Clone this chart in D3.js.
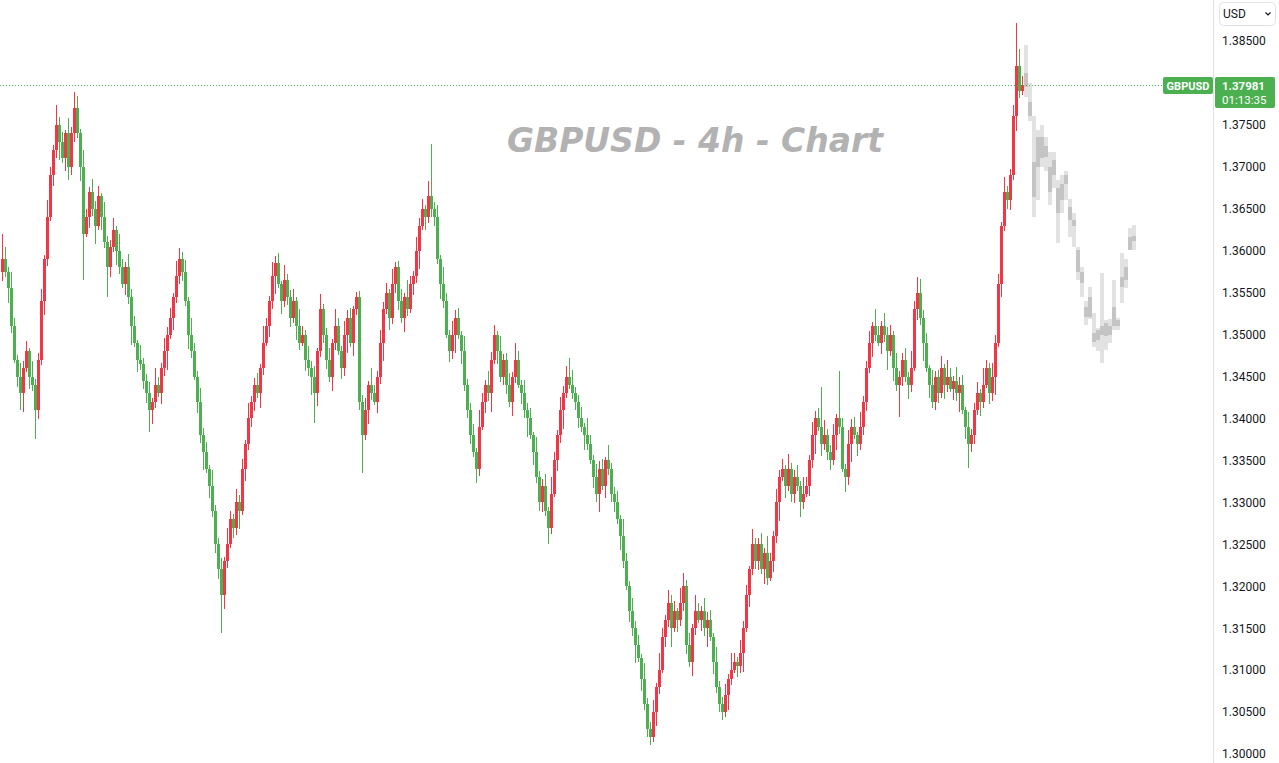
<!DOCTYPE html>
<html><head><meta charset="utf-8">
<script src="https://cdn.jsdelivr.net/npm/d3@7"></script>
<style>html,body{margin:0;padding:0;background:#fff;overflow:hidden}</style>
</head><body>
<svg id="c" width="1279" height="763"></svg>
<script>
const symbol = "GBPUSD";
const title = "GBPUSD - 4h - Chart";
const currency = "USD";
const lastPrice = 1.37981;
const countdown = "01:13:35";
const priceTicks = [1.385,1.38,1.375,1.37,1.365,1.36,1.355,1.35,1.345,1.34,1.335,1.33,1.325,1.32,1.315,1.31,1.305,1.30];

const opens = [1.3575,1.3590,1.3575,1.3555,1.3510,1.3470,1.3450,1.3430,1.3460,1.3480,1.3450,1.3440,1.3410,1.3470,1.3540,1.3590,1.3640,1.3690,1.3720,1.3750,
1.3730,1.3710,1.3740,1.3700,1.3740,1.3770,1.3740,1.3700,1.3620,1.3640,1.3670,1.3650,1.3630,1.3665,1.3640,1.3610,1.3580,1.3605,1.3625,1.3600,
1.3580,1.3560,1.3580,1.3545,1.3510,1.3490,1.3470,1.3465,1.3445,1.3430,1.3410,1.3420,1.3440,1.3430,1.3460,1.3480,1.3500,1.3520,1.3545,1.3570,
1.3590,1.3575,1.3540,1.3500,1.3480,1.3450,1.3420,1.3380,1.3360,1.3340,1.3320,1.3290,1.3250,1.3220,1.3190,1.3230,1.3250,1.3280,1.3270,1.3300,
1.3290,1.3340,1.3370,1.3400,1.3420,1.3440,1.3430,1.3460,1.3490,1.3510,1.3540,1.3570,1.3585,1.3560,1.3540,1.3565,1.3545,1.3520,1.3540,1.3510,
1.3490,1.3500,1.3470,1.3460,1.3450,1.3430,1.3480,1.3530,1.3500,1.3470,1.3450,1.3490,1.3510,1.3480,1.3460,1.3500,1.3520,1.3490,1.3530,1.3545,
1.3420,1.3380,1.3410,1.3440,1.3430,1.3420,1.3450,1.3490,1.3530,1.3550,1.3520,1.3560,1.3580,1.3540,1.3520,1.3545,1.3530,1.3560,1.3570,1.3600,
1.3630,1.3650,1.3640,1.3665,1.3650,1.3640,1.3590,1.3560,1.3540,1.3500,1.3480,1.3500,1.3520,1.3500,1.3480,1.3440,1.3410,1.3380,1.3360,1.3340,
1.3390,1.3420,1.3440,1.3430,1.3470,1.3500,1.3480,1.3450,1.3470,1.3440,1.3420,1.3450,1.3470,1.3440,1.3430,1.3410,1.3400,1.3380,1.3360,1.3330,
1.3300,1.3320,1.3290,1.3270,1.3310,1.3350,1.3380,1.3410,1.3430,1.3450,1.3440,1.3430,1.3420,1.3400,1.3390,1.3380,1.3370,1.3350,1.3330,1.3310,
1.3340,1.3320,1.3350,1.3340,1.3310,1.3300,1.3280,1.3260,1.3230,1.3200,1.3170,1.3150,1.3130,1.3115,1.3090,1.3060,1.3030,1.3020,1.3050,1.3080,
1.3100,1.3140,1.3160,1.3180,1.3150,1.3170,1.3160,1.3180,1.3200,1.3130,1.3110,1.3150,1.3170,1.3160,1.3170,1.3150,1.3160,1.3140,1.3110,1.3080,
1.3060,1.3050,1.3070,1.3090,1.3100,1.3110,1.3105,1.3120,1.3150,1.3190,1.3220,1.3250,1.3230,1.3250,1.3220,1.3240,1.3210,1.3230,1.3260,1.3300,
1.3330,1.3340,1.3320,1.3340,1.3310,1.3330,1.3320,1.3300,1.3310,1.3320,1.3350,1.3380,1.3400,1.3390,1.3370,1.3380,1.3360,1.3350,1.3380,1.3400,
1.3390,1.3340,1.3330,1.3370,1.3390,1.3380,1.3370,1.3390,1.3420,1.3460,1.3490,1.3510,1.3500,1.3490,1.3510,1.3500,1.3480,1.3500,1.3460,1.3440,
1.3450,1.3470,1.3450,1.3440,1.3460,1.3530,1.3550,1.3520,1.3490,1.3460,1.3440,1.3420,1.3450,1.3430,1.3460,1.3440,1.3450,1.3435,1.3445,1.3430,
1.3440,1.3410,1.3390,1.3370,1.3380,1.3410,1.3430,1.3420,1.3440,1.3460,1.3430,1.3450,1.3490,1.3560,1.3630,1.3670,1.3660,1.3690,1.3760,1.3820,
1.3790];

const highs = [1.3620,1.3604,1.3580,1.3575,1.3520,1.3476,1.3466,1.3469,1.3492,1.3484,1.3468,1.3447,1.3478,1.3554,1.3595,1.3660,1.3700,1.3726,1.3774,1.3759,
1.3742,1.3744,1.3758,1.3747,1.3789,1.3784,1.3745,1.3720,1.3650,1.3676,1.3686,1.3659,1.3677,1.3669,1.3658,1.3617,1.3613,1.3639,1.3630,1.3620,
1.3590,1.3586,1.3596,1.3554,1.3522,1.3494,1.3488,1.3472,1.3453,1.3444,1.3425,1.3460,1.3450,1.3466,1.3496,1.3509,1.3532,1.3549,1.3588,1.3603,
1.3598,1.3589,1.3545,1.3520,1.3490,1.3456,1.3436,1.3389,1.3372,1.3344,1.3338,1.3297,1.3258,1.3234,1.3235,1.3270,1.3290,1.3286,1.3316,1.3309,
1.3352,1.3374,1.3418,1.3427,1.3448,1.3454,1.3465,1.3510,1.3520,1.3546,1.3586,1.3594,1.3597,1.3564,1.3583,1.3572,1.3553,1.3554,1.3545,1.3530,
1.3510,1.3506,1.3486,1.3469,1.3462,1.3484,1.3548,1.3537,1.3508,1.3484,1.3495,1.3530,1.3520,1.3486,1.3516,1.3529,1.3532,1.3534,1.3551,1.3552,
1.3428,1.3424,1.3445,1.3460,1.3440,1.3456,1.3506,1.3539,1.3562,1.3554,1.3578,1.3587,1.3588,1.3554,1.3550,1.3565,1.3570,1.3576,1.3616,1.3639,
1.3662,1.3654,1.3683,1.3727,1.3658,1.3654,1.3595,1.3580,1.3550,1.3506,1.3516,1.3529,1.3532,1.3504,1.3498,1.3447,1.3418,1.3394,1.3365,1.3410,
1.3430,1.3446,1.3456,1.3479,1.3512,1.3504,1.3498,1.3477,1.3478,1.3454,1.3455,1.3490,1.3480,1.3446,1.3446,1.3419,1.3412,1.3384,1.3378,1.3337,
1.3328,1.3334,1.3295,1.3330,1.3360,1.3386,1.3426,1.3439,1.3462,1.3472,1.3458,1.3437,1.3428,1.3414,1.3395,1.3400,1.3380,1.3356,1.3346,1.3349,
1.3352,1.3354,1.3368,1.3347,1.3318,1.3314,1.3285,1.3280,1.3240,1.3206,1.3186,1.3159,1.3142,1.3119,1.3108,1.3067,1.3038,1.3064,1.3085,1.3120,
1.3150,1.3166,1.3196,1.3189,1.3182,1.3174,1.3198,1.3216,1.3208,1.3144,1.3155,1.3190,1.3180,1.3176,1.3186,1.3169,1.3172,1.3144,1.3128,1.3087,
1.3068,1.3084,1.3095,1.3120,1.3120,1.3116,1.3136,1.3159,1.3202,1.3224,1.3268,1.3257,1.3258,1.3264,1.3245,1.3260,1.3240,1.3266,1.3316,1.3339,
1.3352,1.3344,1.3358,1.3347,1.3338,1.3344,1.3325,1.3330,1.3330,1.3356,1.3396,1.3409,1.3412,1.3438,1.3398,1.3387,1.3368,1.3394,1.3405,1.3456,
1.3400,1.3346,1.3386,1.3399,1.3402,1.3384,1.3408,1.3427,1.3468,1.3504,1.3515,1.3530,1.3510,1.3516,1.3526,1.3509,1.3512,1.3504,1.3478,1.3457,
1.3478,1.3484,1.3455,1.3480,1.3540,1.3569,1.3566,1.3529,1.3502,1.3464,1.3458,1.3457,1.3458,1.3474,1.3465,1.3470,1.3460,1.3451,1.3461,1.3449,
1.3452,1.3414,1.3408,1.3387,1.3418,1.3444,1.3435,1.3460,1.3470,1.3466,1.3466,1.3499,1.3572,1.3634,1.3688,1.3677,1.3698,1.3774,1.3871,1.3840,
1.3808];

const lows = [1.3564,1.3569,1.3538,1.3502,1.3466,1.3437,1.3410,1.3408,1.3455,1.3435,1.3433,1.3375,1.3399,1.3464,1.3523,1.3582,1.3636,1.3677,1.3711,1.3708,
1.3705,1.3695,1.3684,1.3690,1.3729,1.3734,1.3683,1.3565,1.3616,1.3627,1.3641,1.3608,1.3625,1.3625,1.3603,1.3545,1.3569,1.3599,1.3583,1.3572,
1.3556,1.3547,1.3536,1.3488,1.3485,1.3455,1.3458,1.3435,1.3419,1.3384,1.3393,1.3412,1.3426,1.3417,1.3451,1.3458,1.3495,1.3505,1.3538,1.3560,
1.3564,1.3534,1.3483,1.3472,1.3446,1.3407,1.3371,1.3338,1.3335,1.3305,1.3283,1.3240,1.3209,1.3144,1.3173,1.3222,1.3246,1.3257,1.3261,1.3268,
1.3285,1.3325,1.3363,1.3390,1.3409,1.3424,1.3413,1.3452,1.3486,1.3497,1.3531,1.3548,1.3555,1.3525,1.3533,1.3535,1.3509,1.3514,1.3493,1.3482,
1.3486,1.3457,1.3451,1.3428,1.3395,1.3415,1.3473,1.3490,1.3459,1.3444,1.3433,1.3482,1.3476,1.3447,1.3451,1.3478,1.3485,1.3475,1.3523,1.3410,
1.3335,1.3374,1.3393,1.3422,1.3416,1.3407,1.3441,1.3468,1.3525,1.3505,1.3513,1.3550,1.3529,1.3514,1.3503,1.3522,1.3526,1.3547,1.3561,1.3578,
1.3625,1.3625,1.3633,1.3640,1.3629,1.3584,1.3543,1.3532,1.3496,1.3467,1.3471,1.3478,1.3495,1.3465,1.3433,1.3400,1.3369,1.3354,1.3323,1.3332,
1.3386,1.3407,1.3421,1.3408,1.3465,1.3465,1.3443,1.3440,1.3429,1.3414,1.3403,1.3442,1.3436,1.3417,1.3401,1.3378,1.3375,1.3345,1.3323,1.3290,
1.3289,1.3284,1.3250,1.3262,1.3306,1.3337,1.3371,1.3388,1.3425,1.3435,1.3423,1.3410,1.3389,1.3384,1.3363,1.3362,1.3346,1.3317,1.3301,1.3288,
1.3315,1.3305,1.3333,1.3300,1.3289,1.3274,1.3243,1.3222,1.3196,1.3157,1.3141,1.3108,1.3110,1.3075,1.3053,1.3020,1.3011,1.3014,1.3033,1.3072,
1.3096,1.3127,1.3151,1.3128,1.3145,1.3145,1.3153,1.3170,1.3119,1.3104,1.3093,1.3142,1.3156,1.3147,1.3141,1.3128,1.3135,1.3095,1.3073,1.3050,
1.3041,1.3044,1.3053,1.3082,1.3096,1.3092,1.3096,1.3098,1.3145,1.3175,1.3213,1.3220,1.3219,1.3214,1.3203,1.3202,1.3206,1.3217,1.3251,1.3278,
1.3325,1.3305,1.3313,1.3300,1.3299,1.3314,1.3283,1.3292,1.3306,1.3307,1.3341,1.3358,1.3385,1.3355,1.3363,1.3350,1.3339,1.3344,1.3363,1.3382,
1.3336,1.3312,1.3321,1.3348,1.3375,1.3355,1.3363,1.3380,1.3409,1.3454,1.3473,1.3492,1.3486,1.3477,1.3491,1.3458,1.3475,1.3445,1.3433,1.3402,
1.3439,1.3444,1.3423,1.3432,1.3456,1.3517,1.3511,1.3468,1.3455,1.3425,1.3413,1.3410,1.3419,1.3424,1.3423,1.3432,1.3431,1.3422,1.3421,1.3408,
1.3405,1.3375,1.3341,1.3360,1.3369,1.3404,1.3403,1.3412,1.3436,1.3417,1.3421,1.3428,1.3485,1.3545,1.3623,1.3650,1.3649,1.3684,1.3743,1.3782,
1.3786];

const closes = [1.3590,1.3575,1.3555,1.3510,1.3470,1.3450,1.3430,1.3460,1.3480,1.3450,1.3440,1.3410,1.3470,1.3540,1.3590,1.3640,1.3690,1.3720,1.3750,1.3730,
1.3710,1.3740,1.3700,1.3740,1.3770,1.3740,1.3700,1.3620,1.3640,1.3670,1.3650,1.3630,1.3665,1.3640,1.3610,1.3580,1.3605,1.3625,1.3600,1.3580,
1.3560,1.3580,1.3545,1.3510,1.3490,1.3470,1.3465,1.3445,1.3430,1.3410,1.3420,1.3440,1.3430,1.3460,1.3480,1.3500,1.3520,1.3545,1.3570,1.3590,
1.3575,1.3540,1.3500,1.3480,1.3450,1.3420,1.3380,1.3360,1.3340,1.3320,1.3290,1.3250,1.3220,1.3190,1.3230,1.3250,1.3280,1.3270,1.3300,1.3290,
1.3340,1.3370,1.3400,1.3420,1.3440,1.3430,1.3460,1.3490,1.3510,1.3540,1.3570,1.3585,1.3560,1.3540,1.3565,1.3545,1.3520,1.3540,1.3510,1.3490,
1.3500,1.3470,1.3460,1.3450,1.3430,1.3480,1.3530,1.3500,1.3470,1.3450,1.3490,1.3510,1.3480,1.3460,1.3500,1.3520,1.3490,1.3530,1.3545,1.3420,
1.3380,1.3410,1.3440,1.3430,1.3420,1.3450,1.3490,1.3530,1.3550,1.3520,1.3560,1.3580,1.3540,1.3520,1.3545,1.3530,1.3560,1.3570,1.3600,1.3630,
1.3650,1.3640,1.3665,1.3650,1.3640,1.3590,1.3560,1.3540,1.3500,1.3480,1.3500,1.3520,1.3500,1.3480,1.3440,1.3410,1.3380,1.3360,1.3340,1.3390,
1.3420,1.3440,1.3430,1.3470,1.3500,1.3480,1.3450,1.3470,1.3440,1.3420,1.3450,1.3470,1.3440,1.3430,1.3410,1.3400,1.3380,1.3360,1.3330,1.3300,
1.3320,1.3290,1.3270,1.3310,1.3350,1.3380,1.3410,1.3430,1.3450,1.3440,1.3430,1.3420,1.3400,1.3390,1.3380,1.3370,1.3350,1.3330,1.3310,1.3340,
1.3320,1.3350,1.3340,1.3310,1.3300,1.3280,1.3260,1.3230,1.3200,1.3170,1.3150,1.3130,1.3115,1.3090,1.3060,1.3030,1.3020,1.3050,1.3080,1.3100,
1.3140,1.3160,1.3180,1.3150,1.3170,1.3160,1.3180,1.3200,1.3130,1.3110,1.3150,1.3170,1.3160,1.3170,1.3150,1.3160,1.3140,1.3110,1.3080,1.3060,
1.3050,1.3070,1.3090,1.3100,1.3110,1.3105,1.3120,1.3150,1.3190,1.3220,1.3250,1.3230,1.3250,1.3220,1.3240,1.3210,1.3230,1.3260,1.3300,1.3330,
1.3340,1.3320,1.3340,1.3310,1.3330,1.3320,1.3300,1.3310,1.3320,1.3350,1.3380,1.3400,1.3390,1.3370,1.3380,1.3360,1.3350,1.3380,1.3400,1.3390,
1.3340,1.3330,1.3370,1.3390,1.3380,1.3370,1.3390,1.3420,1.3460,1.3490,1.3510,1.3500,1.3490,1.3510,1.3500,1.3480,1.3500,1.3460,1.3440,1.3450,
1.3470,1.3450,1.3440,1.3460,1.3530,1.3550,1.3520,1.3490,1.3460,1.3440,1.3420,1.3450,1.3430,1.3460,1.3440,1.3450,1.3435,1.3445,1.3430,1.3440,
1.3410,1.3390,1.3370,1.3380,1.3410,1.3430,1.3420,1.3440,1.3460,1.3430,1.3450,1.3490,1.3560,1.3630,1.3670,1.3660,1.3690,1.3760,1.3820,1.3790,
1.37981];

const ghostOpen  = [1.3812,1.3777,1.3706,1.3700,1.3736,1.3712,1.3700,1.3690,1.3675,1.3660,1.3680,1.3652,1.3637,1.3601,1.3575,1.3533,1.3521,1.3502,1.3494,1.3500,1.3514,1.3500,1.3510,1.3517,1.3557,1.3565,1.3601,1.3612];
const ghostHigh  = [1.3845,1.3800,1.3760,1.3744,1.3750,1.3735,1.3718,1.3718,1.3684,1.3690,1.3695,1.3662,1.3645,1.3605,1.3580,1.3540,1.3557,1.3526,1.3508,1.3573,1.3517,1.3518,1.3565,1.3520,1.3597,1.3590,1.3627,1.3631];
const ghostLow   = [1.3783,1.3755,1.3640,1.3660,1.3700,1.3695,1.3655,1.3675,1.3609,1.3645,1.3660,1.3616,1.3605,1.3565,1.3545,1.3512,1.3518,1.3485,1.3480,1.3466,1.3482,1.3490,1.3505,1.3506,1.3538,1.3555,1.3601,1.3601];
const ghostClose = [1.3795,1.3760,1.3664,1.3736,1.3710,1.3725,1.3670,1.3708,1.3645,1.3680,1.3690,1.3637,1.3630,1.3575,1.3562,1.3521,1.3545,1.3491,1.3506,1.3510,1.3498,1.3510,1.3533,1.3510,1.3569,1.3581,1.3616,1.3618];

const UP = "#f23645", DOWN = "#4caf50", LINE = "#e0e3eb", TEXT = "#131722";
const axisX = 1213;
const svg = d3.select("#c");

const y = d3.scaleLinear().domain([1.30, 1.385]).range([754, 41]);
const x = d3.scaleLinear().domain([0, closes.length - 1]).range([2, 1022]);
const xg = d3.scaleLinear().domain([0, ghostClose.length - 1]).range([1026, 1134]);

// watermark
svg.append("text").attr("x", 695).attr("y", 152).attr("text-anchor", "middle")
  .attr("font-family", "DejaVu Sans").attr("font-weight", "bold").attr("font-style", "italic")
  .attr("font-size", 33).attr("fill", "#b2b2b2").text(title);

// ghost candles
const ghosts = ghostClose.map((c, i) => ({i, o: ghostOpen[i], h: ghostHigh[i], l: ghostLow[i], c}));
const gg = svg.append("g").attr("shape-rendering", "crispEdges");
gg.selectAll("rect.gw").data(ghosts).join("rect").attr("class", "gw")
  .attr("x", d => Math.round(xg(d.i)) - 2).attr("width", 4)
  .attr("y", d => y(d.h)).attr("height", d => y(d.l) - y(d.h))
  .attr("fill", "#e2e2e2");
gg.selectAll("rect.gb").data(ghosts).join("rect").attr("class", "gb")
  .attr("x", d => Math.round(xg(d.i)) - 2).attr("width", 4)
  .attr("y", d => y(Math.max(d.o, d.c))).attr("height", d => Math.max(3, Math.abs(y(d.o) - y(d.c))))
  .attr("fill", "#c4c4c4");

// real candles
const candles = closes.map((c, i) => ({i, o: opens[i], h: highs[i], l: lows[i], c}));
const cg = svg.append("g").attr("shape-rendering", "crispEdges");
cg.selectAll("rect.w").data(candles).join("rect").attr("class", "w")
  .attr("x", d => Math.round(x(d.i))).attr("width", 1)
  .attr("y", d => y(d.h)).attr("height", d => Math.max(1, y(d.l) - y(d.h)))
  .attr("fill", d => d.c >= d.o ? UP : DOWN);
cg.selectAll("rect.b").data(candles).join("rect").attr("class", "b")
  .attr("x", d => Math.round(x(d.i)) - 1).attr("width", 3)
  .attr("y", d => y(Math.max(d.o, d.c))).attr("height", d => Math.max(1, Math.abs(y(d.o) - y(d.c))))
  .attr("fill", d => d.c >= d.o ? UP : DOWN);

// last price dotted line
const py = Math.round(y(lastPrice)) + 0.5;
svg.append("line").attr("x1", 0).attr("x2", 1163).attr("y1", py).attr("y2", py)
  .attr("stroke", DOWN).attr("stroke-width", 1).attr("stroke-dasharray", "1 2");

// axis separator
svg.append("line").attr("x1", axisX + 0.5).attr("x2", axisX + 0.5).attr("y1", 0).attr("y2", 763)
  .attr("stroke", LINE).attr("stroke-width", 1);

// price axis
const axis = d3.axisRight(y).tickValues(priceTicks).tickFormat(d3.format(".5f")).tickSize(0).tickPadding(9);
const ag = svg.append("g").attr("transform", `translate(${axisX},0)`).call(axis);
ag.select(".domain").remove();
ag.selectAll("text").attr("font-family", "Roboto").attr("font-size", 12).attr("fill", TEXT);

// symbol label
svg.append("rect").attr("x", 1163).attr("y", py - 8.5).attr("width", 50).attr("height", 17).attr("rx", 2).attr("fill", DOWN);
svg.append("text").attr("x", 1188).attr("y", py + 4.5).attr("text-anchor", "middle")
  .attr("font-family", "Roboto").attr("font-weight", "bold").attr("font-size", 11).attr("fill", "#fff").text(symbol);

// price box
svg.append("rect").attr("x", 1215).attr("y", py - 8.5).attr("width", 60).attr("height", 31).attr("rx", 2).attr("fill", DOWN);
svg.append("text").attr("x", 1222).attr("y", py + 4)
  .attr("font-family", "Roboto").attr("font-weight", "bold").attr("font-size", 11.5).attr("fill", "#fff").text(d3.format(".5f")(lastPrice));
svg.append("text").attr("x", 1222).attr("y", py + 18)
  .attr("font-family", "Roboto").attr("font-size", 11.5).attr("fill", "#fff").text(countdown);

// currency selector
svg.append("rect").attr("x", 1219.5).attr("y", 2.5).attr("width", 56).attr("height", 23).attr("rx", 4)
  .attr("fill", "#fff").attr("stroke", LINE);
svg.append("text").attr("x", 1223).attr("y", 18).attr("font-family", "Roboto").attr("font-size", 12)
  .attr("fill", TEXT).text(currency);
svg.append("path").attr("d", "M1265.5,12.5 L1268,15 L1270.5,12.5").attr("fill", "none")
  .attr("stroke", TEXT).attr("stroke-width", 1.2);
</script>
</body></html>
